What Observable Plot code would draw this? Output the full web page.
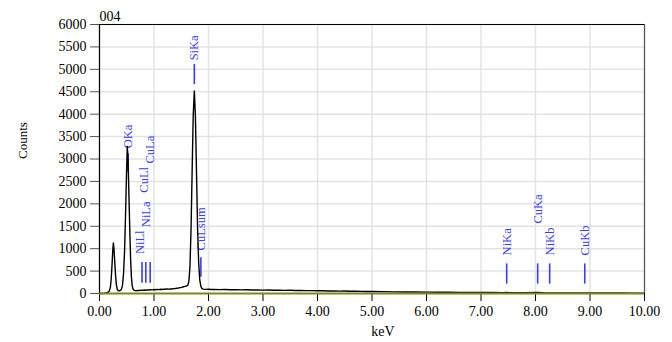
<!DOCTYPE html>
<html><head><meta charset="utf-8">
<script src="https://cdn.jsdelivr.net/npm/d3@7"></script>
<script src="https://cdn.jsdelivr.net/npm/@observablehq/plot@0.6"></script>
<style>body{margin:0;background:#fff}</style>
</head><body><div id="chart"></div>
<script>
// Spectrum (keV, counts)
const energyKeV = [
  0.00,0.05,0.08,0.11,0.14,0.16,0.18,0.20,0.215,0.23,
  0.245,0.255,0.265,0.28,0.295,0.31,0.325,0.34,0.36,0.38,
  0.40,0.42,0.44,0.46,0.48,0.495,0.51,0.525,0.54,0.555,
  0.57,0.585,0.60,0.62,0.64,0.67,0.70,0.73,0.76,0.79,
  0.82,0.85,0.88,0.91,0.94,0.97,1.00,1.03,1.06,1.09,
  1.12,1.15,1.18,1.21,1.24,1.27,1.30,1.33,1.36,1.39,
  1.42,1.45,1.48,1.51,1.54,1.57,1.60,1.62,1.64,1.66,
  1.68,1.70,1.72,1.74,1.76,1.78,1.80,1.82,1.84,1.86,
  1.88,1.90,1.95,2.00,2.05,2.10,2.20,2.30,2.40,2.50,
  2.60,2.70,2.80,2.90,3.00,3.10,3.20,3.30,3.40,3.50,
  3.60,3.70,3.80,3.90,4.00,4.10,4.20,4.30,4.40,4.50,
  4.60,4.70,4.80,4.90,5.00,5.20,5.40,5.60,5.80,6.00,
  6.20,6.40,6.60,6.80,7.00,7.20,7.40,7.47,7.55,7.80,
  8.04,8.15,8.40,8.60,8.80,9.00,9.20,9.40,9.60,9.80,
  10.00
];
const counts = [
  0,0,4,12,22,32,58,140,330,640,
  990,1130,1010,700,400,190,95,68,62,66,
  90,170,420,950,1850,2650,3280,2950,2200,1450,
  800,380,170,90,70,62,70,66,74,70,
  78,74,82,79,86,80,88,84,92,87,
  95,90,98,94,102,97,104,100,108,112,
  118,122,130,138,150,160,168,185,270,600,
  1450,2750,3980,4520,3950,2700,1450,680,300,160,
  112,98,92,95,88,92,86,90,84,86,
  80,83,78,80,75,78,72,74,70,71,
  67,68,64,65,61,62,57,58,54,55,
  50,51,47,46,43,41,37,35,33,31,
  29,28,26,24,22,21,20,24,19,18,
  24,17,15,14,13,12,11,10,10,9,
  8
];

// Axis ticks
const xTicks = [0,1,2,3,4,5,6,7,8,9,10];
const yTicks = [0,500,1000,1500,2000,2500,3000,3500,4000,4500,5000,5500,6000];

// Peak labels
const peakNames = ["OKa","NiLl","CuLl","NiLa","CuLa","SiKa","CuLsum","NiKa","CuKa","NiKb","CuKb"];
const peakKeV   = [0.525,0.743,0.811,0.851,0.930,1.740,1.860,7.471,8.040,8.260,8.904];
const labelBase = [3240,880,2250,1480,2900,5200,960,850,1560,850,850];

// Peak marker lines
const lineKeV  = [0.525,0.78,0.85,0.93,1.74,1.86,7.471,8.04,8.26,8.904];
const lineLow  = [2700,230,230,230,4660,360,210,210,210,210];
const lineHigh = [3120,690,690,690,5110,800,660,660,660,660];

const spectrum = energyKeV.map((e, i) => ({e, c: counts[i]}));
const labels = peakNames.map((n, i) => ({n, e: peakKeV[i], c: labelBase[i]}));
const lines = lineKeV.map((e, i) => ({e, lo: lineLow[i], hi: lineHigh[i]}));

const blue = "#3b3bff";
const serif = "'Liberation Serif', 'Times New Roman', serif";
const chart = Plot.plot({
  width: 672, height: 342,
  marginLeft: 99, marginRight: 28, marginTop: 24, marginBottom: 49,
  style: {fontFamily: serif, fontSize: "14px", background: "#fff", color: "#000"},
  x: {domain: [0, 10]},
  y: {domain: [0, 6000]},
  marks: [
    Plot.gridX(xTicks, {stroke: "#e3e3e3", strokeOpacity: 1, strokeWidth: 1.5}),
    Plot.gridY(yTicks, {stroke: "#e3e3e3", strokeOpacity: 1, strokeWidth: 1.5}),
    Plot.axisY(yTicks, {tickSize: 9, tickPadding: 4, tickFormat: d => String(d), stroke: "#555", label: null, fontSize: 14}),
    Plot.axisX(xTicks, {tickSize: 8, tickPadding: 5, tickFormat: d => d.toFixed(2), label: null, fontSize: 14}),
    Plot.ruleX(lines, {x: "e", y1: "lo", y2: "hi", stroke: blue, strokeWidth: 1.6}),
    Plot.text(labels, {x: "e", y: "c", text: "n", rotate: -90, textAnchor: "start", fill: blue, fontSize: 12.5, fontFamily: serif}),
    Plot.line(spectrum, {x: "e", y: "c", stroke: "#000", strokeWidth: 1.4}),
    Plot.ruleY([0], {stroke: "#86861c", strokeWidth: 2}),
    Plot.ruleY([6000], {stroke: "#000", strokeWidth: 1.2}),
    Plot.ruleX([0], {stroke: "#000", strokeWidth: 1.2}),
    Plot.ruleX([10], {stroke: "#555", strokeWidth: 1.2}),
    Plot.text(["004"], {frameAnchor: "top-left", lineAnchor: "middle", dy: -8, textAnchor: "start", fontSize: 14}),
    Plot.text(["Counts"], {frameAnchor: "left", dx: -77, rotate: -90, fontSize: 13}),
    Plot.text(["keV"], {frameAnchor: "bottom", dx: 11, dy: 42, fontSize: 14})
  ]
});
document.getElementById("chart").appendChild(chart);
</script>
</body></html>
